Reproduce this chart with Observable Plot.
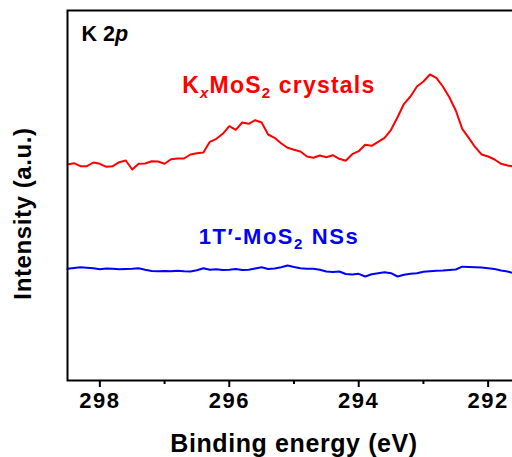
<!DOCTYPE html>
<html><head><meta charset="utf-8">
<script src="https://cdn.jsdelivr.net/npm/d3@7"></script>
<script src="https://cdn.jsdelivr.net/npm/@observablehq/plot@0.6"></script>
<style>
html,body{margin:0;padding:0;background:#fff;overflow:hidden;width:512px;height:457px}
#chart svg{max-width:none!important;display:block}
</style></head><body><div id="chart"></div>
<script>
const energy = [298.5,298.4,298.3,298.2,298.1,298.0,297.9,297.8,297.7,297.6,297.5,297.4,297.3,297.2,297.1,297.0,296.9,296.8,296.7,296.6,296.5,296.4,296.3,296.2,296.1,296.0,295.9,295.8,295.7,295.6,295.5,295.4,295.3,295.2,295.1,295.0,294.9,294.8,294.7,294.6,294.5,294.4,294.3,294.2,294.1,294.0,293.9,293.8,293.7,293.6,293.5,293.4,293.3,293.2,293.1,293.0,292.9,292.8,292.7,292.6,292.5,292.4,292.3,292.2,292.1,292.0,291.9,291.8,291.7,291.6];
const kxMoS2 = [216,217.3,214.3,214.3,218,216.7,213.7,214.3,218.3,220,211,216.7,217,219.3,219,216.7,221.3,222,222,226,227.3,228,238.7,241.7,246.7,254.3,250.7,258,256.7,260.3,258,246,242.7,237.3,232.7,230.7,229,224,222.7,225,223.3,225.3,221.7,219.7,226.3,229.3,235.7,234.7,238.7,242.7,250.7,263.3,276.7,284,294,299,306,302.7,294,283.3,270,251.7,242.7,233.3,226,224,221,216.7,215,214];
const nss1T = [111.7,112.5,113.3,112.7,112.2,111.2,112,111.7,111.2,111.5,111.7,112.2,110.7,109.5,109.3,109.4,109.2,109.8,109.2,109,110.2,112.3,110.7,111.3,110.6,110.8,111.4,110.5,110.7,112,113.3,111.5,112,113.3,115,113.5,112.3,111.7,111.8,110.7,109,108.5,109,106.5,106,106.7,104,106.2,107.2,108.3,107.3,104,105.7,106.7,107.2,108.8,109.3,109.8,110,110.5,111,113.8,113.5,113.3,113,112.2,111.5,110,109,107.2];
const majorTicks = [298, 296, 294, 292];
const minorTicks = [297, 295, 293];
const panelLabel = "K 2p";
const kxLabel = "KxMoS2 crystals";
const nssLabel = "1T′-MoS2 NSs";
const xLabel = "Binding energy (eV)";
const yLabel = "Intensity (a.u.)";

const rows = energy.map((e, i) => ({energy: e, kx: kxMoS2[i], nss: nss1T[i]}));
const font = "'Liberation Sans', Arial, Helvetica, sans-serif";
const RED = "#ff0000", BLUE = "#0000ff";

const chart = Plot.plot({
  width: 522, height: 457,
  marginLeft: 67, marginRight: 2, marginTop: 10, marginBottom: 77,
  style: {fontFamily: font, background: "#fff", maxWidth: "none", overflow: "visible"},
  x: {domain: [298.5, 291.5]},
  y: {domain: [0, 370], axis: null},
  marks: [
    Plot.line(rows, {x: "energy", y: "kx", stroke: RED, strokeWidth: 2}),
    Plot.line(rows, {x: "energy", y: "nss", stroke: BLUE, strokeWidth: 2}),
    Plot.axisX({ticks: minorTicks, tickSize: 4, tickFormat: () => "", strokeWidth: 2, label: null}),
    Plot.axisX({ticks: majorTicks, tickSize: 7, tickPadding: 5, tickFormat: d3.format("d"), strokeWidth: 2, fontSize: 22, fontWeight: "bold", label: null}),
    Plot.frame({stroke: "#000", strokeWidth: 2}),
    Plot.text([panelLabel], {frameAnchor: "top-left", dx: 14, dy: 30.7, text: d => d, textAnchor: "start", lineAnchor: "bottom", fontSize: 21.5, fontWeight: "bold", fill: "#000"}),
    Plot.text([kxLabel], {frameAnchor: "top-left", dx: 114.7, dy: 82.5, text: d => d, textAnchor: "start", lineAnchor: "bottom", fontSize: 23, fontWeight: "bold", fill: RED}),
    Plot.text([nssLabel], {frameAnchor: "top-left", dx: 131.3, dy: 233.5, text: d => d, textAnchor: "start", lineAnchor: "bottom", fontSize: 22, fontWeight: "bold", fill: BLUE}),
    Plot.text([xLabel], {frameAnchor: "bottom", dy: 63, text: d => d, textAnchor: "middle", lineAnchor: "middle", fontSize: 25, fontWeight: "bold", fill: "#000"}),
    Plot.text([yLabel], {frameAnchor: "left", dx: -44, dy: 18, rotate: -90, text: d => d, textAnchor: "middle", lineAnchor: "middle", fontSize: 24, fontWeight: "bold", fill: "#000"})
  ]
});
document.getElementById("chart").appendChild(chart);

const NS = "http://www.w3.org/2000/svg";
function rich(str, parts, spacing) {
  d3.select(chart).selectAll("text").each(function() {
    if (this.textContent !== str) return;
    this.textContent = "";
    this.setAttribute("letter-spacing", spacing);
    let shift = 0;
    for (const p of parts) {
      const t = document.createElementNS(NS, "tspan");
      t.textContent = p.t;
      const target = p.sub ? 5 : 0;
      if (target !== shift) { t.setAttribute("dy", target - shift); shift = target; }
      if (p.dx) t.setAttribute("dx", p.dx);
      if (p.sub) t.setAttribute("font-size", p.size || 15);
      if (p.it) t.setAttribute("font-style", "italic");
      this.appendChild(t);
    }
  });
}
rich(panelLabel, [{t: "K 2"}, {t: "p", it: true}], "0");
rich(kxLabel, [{t: "K"}, {t: "x", sub: true, it: true}, {t: "MoS"}, {t: "2", sub: true}, {t: " crystals"}], "1.2");
rich(nssLabel, [{t: "1T′-MoS"}, {t: "2", sub: true}, {t: "NSs", dx: 8}], "1.5");
d3.select(chart).selectAll("text").each(function() {
  const s = this.textContent;
  if (s === xLabel || s === yLabel) this.setAttribute("letter-spacing", "0.6");
  if (majorTicks.map(String).includes(s)) this.setAttribute("letter-spacing", "1.5");
});
</script></body></html>
